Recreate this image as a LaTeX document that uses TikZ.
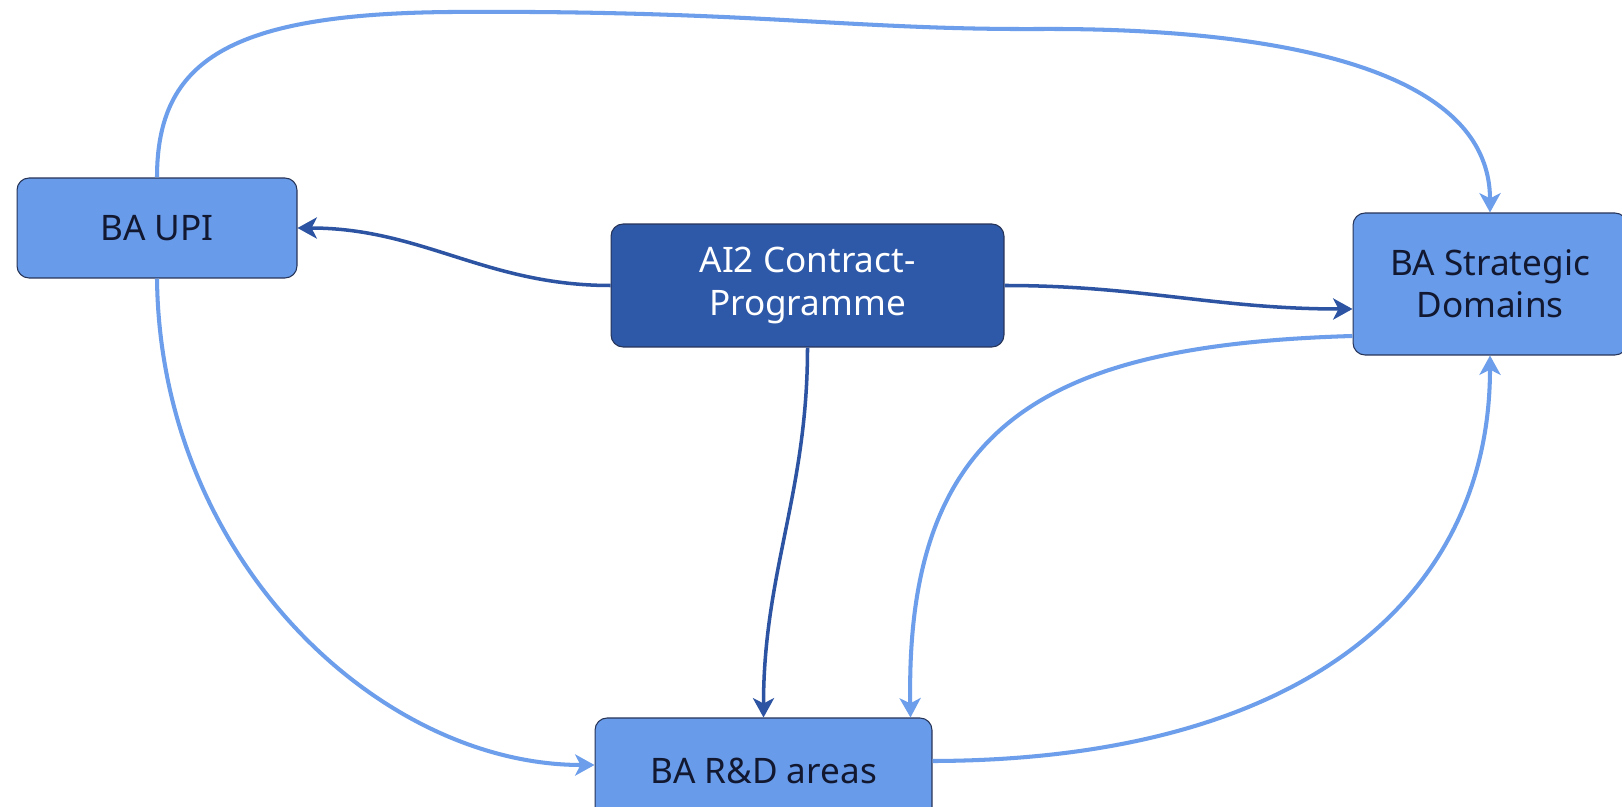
\documentclass[tikz,border=0pt]{standalone}
\usepackage{fontspec}
\setmainfont{Noto Sans}
\usepackage{tikz}
\usetikzlibrary{arrows.meta}

\definecolor{boxlight}{RGB}{104,155,234}
\definecolor{boxdark}{RGB}{46,88,168}
\definecolor{linklight}{RGB}{108,158,235}
\definecolor{linkdark}{RGB}{44,84,162}
\definecolor{boxedge}{RGB}{38,52,88}
\definecolor{textdark}{RGB}{18,24,48}

\begin{document}
\begin{tikzpicture}[x=0.02cm, y=-0.02cm,
    unit/.style={draw=boxedge, line width=0.6pt, rounded corners=0.24cm,
        fill=boxlight, text=textdark, align=center,
        font=\fontsize{20}{24}\selectfont, inner sep=0pt},
    core/.style={unit, fill=boxdark, text=white},
    light/.style={draw=linklight, line width=2.3pt, -{Stealth[length=11pt, width=12pt, inset=3pt]}},
    dark/.style={draw=linkdark, line width=2pt, -{Stealth[length=11pt, width=12pt, inset=3pt]}}]
\useasboundingbox (0,0) rectangle (1622,807);
\fill[white] (0,0) rectangle (1622,807);

% boxes
\node[unit, minimum width=5.6cm, minimum height=2cm] (upi) at (157,228) {BA UPI};
\node[core, minimum width=7.86cm, minimum height=2.46cm] (ai) at (807.5,285.5) {AI2 Contract-\\Programme};
\node[unit, minimum width=5.48cm, minimum height=2.84cm] (strat) at (1490,284) {BA Strategic\\Domains};
\node[unit, minimum width=6.74cm, minimum height=2.12cm] (rd) at (763.5,771) {BA R\&D areas};

% from the contract programme
\draw[dark] (ai.west) to[out=180, in=0] (upi.east);
\draw[dark] (ai.east) to[out=0, in=180] ([yshift=-0.5cm]strat.west);
\draw[dark] (ai.south) to[out=-90, in=90] (rd.north);

% between the BA
\draw[light] (upi.north) .. controls (157,60) and (230,14) .. (450,12)
    .. controls (750,10) and (850,30) .. (1040,29)
    .. controls (1250,28) and (1490,60) .. (strat.north);
\draw[light] (upi.south) .. controls (160,560) and (380,765) .. ([yshift=0.12cm]rd.west);
\draw[light] ([yshift=-1.04cm]strat.west) .. controls (1050,345) and (905,420) .. ([xshift=-0.44cm]rd.north east);
\draw[light] ([yshift=0.2cm]rd.east) .. controls (1300,760) and (1490,600) .. (strat.south);
\end{tikzpicture}
\end{document}
